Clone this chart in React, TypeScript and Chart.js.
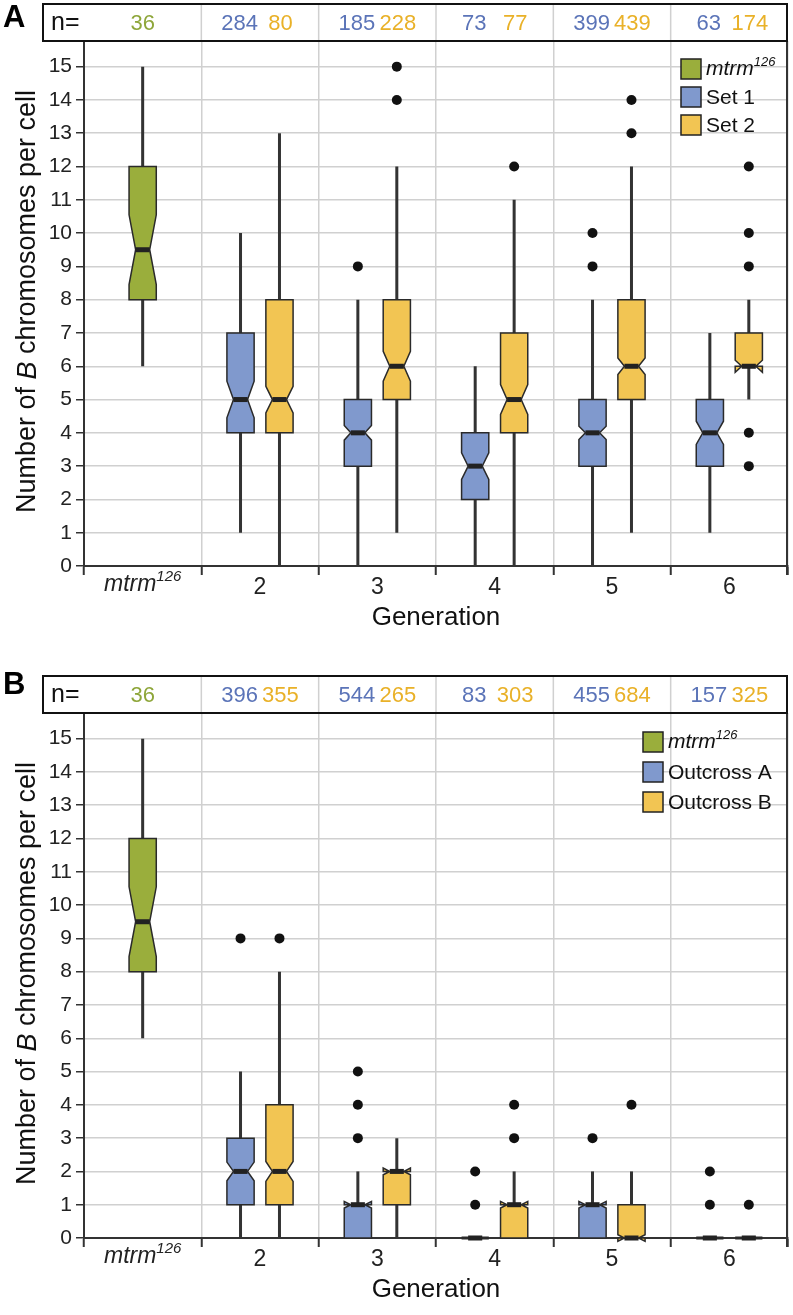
import React, { useEffect, useRef } from 'react';
import { Chart, registerables } from 'chart.js';

Chart.register(...registerables);

// ---------------- data ----------------
const categories = ['mtrm126', '2', '3', '4', '5', '6'];
const yTickValues = [0, 1, 2, 3, 4, 5, 6, 7, 8, 9, 10, 11, 12, 13, 14, 15];

// mtrm126 control (same in both panels): [lowWhisker, Q1, median, Q3, highWhisker]
const mtrmCount = 36;
const mtrmBox = [6, 8, 9.5, 12, 15];
const mtrmNotch = 1.05;

// Panel A – Set 1 / Set 2, generations 2..6
const aLegend = ['Set 1', 'Set 2'];
const aSet1N = [284, 185, 73, 399, 63];
const aSet2N = [80, 228, 77, 439, 174];
const aSet1Low = [1, 0, 0, 0, 1];
const aSet1Q1 = [4, 3, 2, 3, 3];
const aSet1Med = [5, 4, 3, 4, 4];
const aSet1Q3 = [7, 5, 4, 5, 5];
const aSet1High = [10, 8, 6, 8, 7];
const aSet1Notch = [0.55, 0.22, 0.4, 0.2, 0.35];
const aSet1Out = [[], [9], [], [9, 10], []];
const aSet2Low = [0, 1, 0, 1, 5];
const aSet2Q1 = [4, 5, 4, 5, 6];
const aSet2Med = [5, 6, 5, 6, 6];
const aSet2Q3 = [8, 8, 7, 8, 7];
const aSet2High = [13, 12, 11, 12, 8];
const aSet2Notch = [0.4, 0.45, 0.45, 0.25, 0.18];
const aSet2Out = [[], [14, 15], [12], [13, 14], [3, 4, 9, 10, 12]];

// Panel B – Outcross A / Outcross B, generations 2..6
const bLegend = ['Outcross A', 'Outcross B'];
const bSet1N = [396, 544, 83, 455, 157];
const bSet2N = [355, 265, 303, 684, 325];
const bSet1Low = [0, 0, 0, 0, 0];
const bSet1Q1 = [1, 0, 0, 0, 0];
const bSet1Med = [2, 1, 0, 1, 0];
const bSet1Q3 = [3, 1, 0, 1, 0];
const bSet1High = [5, 2, 0, 2, 0];
const bSet1Notch = [0.28, 0.1, 0, 0.1, 0];
const bSet1Out = [[9], [3, 4, 5], [1, 2], [3], [1, 2]];
const bSet2Low = [0, 0, 0, 0, 0];
const bSet2Q1 = [1, 1, 0, 0, 0];
const bSet2Med = [2, 2, 1, 0, 0];
const bSet2Q3 = [4, 2, 1, 1, 0];
const bSet2High = [8, 3, 2, 2, 0];
const bSet2Notch = [0.3, 0.1, 0.1, 0.1, 0];
const bSet2Out = [[9], [], [3, 4], [4], [1]];

// ---------------- style ----------------
const FONT = "'Liberation Sans', Arial, Helvetica, sans-serif";
const GREEN = '#9aae3c';
const BLUE = '#8099cd';
const YELLOW = '#f2c553';
const GREEN_T = '#8ea63a';
const BLUE_T = '#5b74b8';
const YELLOW_T = '#e9b128';
const DARK = '#333333';
const GRID = '#d0d0d0';

const W = 793;
const H = 640;
const X_OFF = 0.166;
const HALF_W = 0.116;
const INSET = 0.056;

type Series = { n: number[]; low: number[]; q1: number[]; med: number[]; q3: number[]; high: number[]; notch: number[]; out: number[][] };
type Panel = {
  letter: string; letterBase: number; legend: string[]; legendX: number; legendY: number; legendStep: number;
  s1: Series; s2: Series;
};

const panelA: Panel = {
  letter: 'A', letterBase: 27, legend: aLegend, legendX: 681, legendY: 69, legendStep: 28,
  s1: { n: aSet1N, low: aSet1Low, q1: aSet1Q1, med: aSet1Med, q3: aSet1Q3, high: aSet1High, notch: aSet1Notch, out: aSet1Out },
  s2: { n: aSet2N, low: aSet2Low, q1: aSet2Q1, med: aSet2Med, q3: aSet2Q3, high: aSet2High, notch: aSet2Notch, out: aSet2Out },
};
const panelB: Panel = {
  letter: 'B', letterBase: 22, legend: bLegend, legendX: 643, legendY: 70, legendStep: 30,
  s1: { n: bSet1N, low: bSet1Low, q1: bSet1Q1, med: bSet1Med, q3: bSet1Q3, high: bSet1High, notch: bSet1Notch, out: bSet1Out },
  s2: { n: bSet2N, low: bSet2Low, q1: bSet2Q1, med: bSet2Med, q3: bSet2Q3, high: bSet2High, notch: bSet2Notch, out: bSet2Out },
};

type Seg = { text: string; font: string; dy?: number };
function drawRich(ctx: CanvasRenderingContext2D, segs: Seg[], x: number, y: number, align: 'left' | 'center') {
  let total = 0;
  const widths = segs.map((s) => { ctx.font = s.font; const w = ctx.measureText(s.text).width; total += w; return w; });
  let cx = align === 'center' ? x - total / 2 : x;
  ctx.textAlign = 'left';
  ctx.textBaseline = 'middle';
  segs.forEach((s, i) => { ctx.font = s.font; ctx.fillText(s.text, cx, y + (s.dy || 0)); cx += widths[i]; });
}

function mtrmSegs(size: number, sup: number, dy: number): Seg[] {
  return [
    { text: 'mtrm', font: `italic ${size}px ${FONT}` },
    { text: '126', font: `italic ${sup}px ${FONT}`, dy: -dy },
  ];
}

function drawBox(ctx: CanvasRenderingContext2D, xs: any, ys: any, cx: number, low: number, q1: number, med: number, q3: number, high: number, notch: number, fill: string) {
  const L = xs.getPixelForValue(cx - HALF_W);
  const R = xs.getPixelForValue(cx + HALF_W);
  const C = xs.getPixelForValue(cx);
  const ins = xs.getPixelForValue(cx - HALF_W + INSET) - L;
  const py = (v: number) => ys.getPixelForValue(v);
  ctx.save();
  ctx.strokeStyle = DARK;
  ctx.lineWidth = 3;
  ctx.lineCap = 'butt';
  ctx.beginPath();
  if (high > q3) { ctx.moveTo(C, py(q3)); ctx.lineTo(C, py(high)); }
  if (low < q1) { ctx.moveTo(C, py(q1)); ctx.lineTo(C, py(low)); }
  ctx.stroke();
  const pts: [number, number][] = [
    [L, q3], [L, med + notch], [L + ins, med], [L, med - notch], [L, q1],
    [R, q1], [R, med - notch], [R - ins, med], [R, med + notch], [R, q3],
  ];
  ctx.beginPath();
  pts.forEach(([x, v], i) => (i === 0 ? ctx.moveTo(x, py(v)) : ctx.lineTo(x, py(v))));
  ctx.closePath();
  ctx.fillStyle = fill;
  ctx.fill();
  ctx.lineWidth = q1 === q3 ? 3 : 1.5;
  ctx.lineJoin = 'miter';
  ctx.strokeStyle = '#2a2a2a';
  ctx.stroke();
  ctx.fillStyle = '#222';
  ctx.fillRect(L + ins, py(med) - 2.5, R - L - 2 * ins, 5);
  ctx.restore();
}

function makePlugin(p: Panel) {
  return {
    id: 'boxes' + p.letter,
    beforeDatasetsDraw(chart: any) {
      const ctx = chart.ctx as CanvasRenderingContext2D;
      const xs = chart.scales.x;
      const ys = chart.scales.y;
      drawBox(ctx, xs, ys, 0.5, mtrmBox[0], mtrmBox[1], mtrmBox[2], mtrmBox[3], mtrmBox[4], mtrmNotch, GREEN);
      for (let i = 0; i < 5; i++) {
        const c = i + 1.5;
        drawBox(ctx, xs, ys, c - X_OFF, p.s1.low[i], p.s1.q1[i], p.s1.med[i], p.s1.q3[i], p.s1.high[i], p.s1.notch[i], BLUE);
        drawBox(ctx, xs, ys, c + X_OFF, p.s2.low[i], p.s2.q1[i], p.s2.med[i], p.s2.q3[i], p.s2.high[i], p.s2.notch[i], YELLOW);
      }
    },
    afterDraw(chart: any) {
      const ctx = chart.ctx as CanvasRenderingContext2D;
      const xs = chart.scales.x;
      const area = chart.chartArea;
      ctx.save();
      // right border
      ctx.strokeStyle = DARK;
      ctx.lineWidth = 2;
      ctx.beginPath();
      ctx.moveTo(area.right - 1, area.top);
      ctx.lineTo(area.right - 1, area.bottom + 9);
      ctx.stroke();
      // header box
      const hTop = 4;
      const hBot = area.top;
      ctx.strokeStyle = GRID;
      ctx.lineWidth = 1.5;
      for (let i = 1; i < 6; i++) {
        const x = xs.getPixelForValue(i);
        ctx.beginPath(); ctx.moveTo(x, hTop); ctx.lineTo(x, hBot); ctx.stroke();
      }
      ctx.strokeStyle = '#111';
      ctx.lineWidth = 2;
      ctx.strokeRect(43, hTop, area.right - 1 - 43, hBot - hTop);
      const hy = (hTop + hBot) / 2 + 1;
      ctx.fillStyle = '#111';
      drawRich(ctx, [{ text: 'n=', font: `25px ${FONT}` }], 51, hy, 'left');
      ctx.fillStyle = GREEN_T;
      drawRich(ctx, [{ text: String(mtrmCount), font: `22px ${FONT}` }], xs.getPixelForValue(0.5), hy, 'center');
      for (let i = 0; i < 5; i++) {
        ctx.fillStyle = BLUE_T;
        drawRich(ctx, [{ text: String(p.s1.n[i]), font: `22px ${FONT}` }], xs.getPixelForValue(i + 1.5 - X_OFF) - 1, hy, 'center');
        ctx.fillStyle = YELLOW_T;
        drawRich(ctx, [{ text: String(p.s2.n[i]), font: `22px ${FONT}` }], xs.getPixelForValue(i + 1.5 + X_OFF) + 1, hy, 'center');
      }
      // panel letter
      ctx.fillStyle = '#000';
      ctx.font = `bold 31px ${FONT}`;
      ctx.textAlign = 'left';
      ctx.textBaseline = 'alphabetic';
      ctx.fillText(p.letter, 3, p.letterBase);
      // x label for mtrm
      ctx.fillStyle = '#222';
      drawRich(ctx, mtrmSegs(23, 15, 8), xs.getPixelForValue(0.5), area.bottom + 19, 'center');
      // axis titles
      ctx.fillStyle = '#111';
      drawRich(ctx, [{ text: 'Generation', font: `26px ${FONT}` }], (area.left + area.right) / 2, area.bottom + 52, 'center');
      ctx.save();
      ctx.translate(28, (area.top + area.bottom) / 2 - 2);
      ctx.rotate(-Math.PI / 2);
      drawRich(ctx, [
        { text: 'Number of ', font: `27px ${FONT}` },
        { text: 'B', font: `italic 27px ${FONT}` },
        { text: ' chromosomes per cell', font: `27px ${FONT}` },
      ], 0, 0, 'center');
      ctx.restore();
      // legend
      const labels = [null, p.legend[0], p.legend[1]];
      const fills = [GREEN, BLUE, YELLOW];
      labels.forEach((lab, i) => {
        const cy = p.legendY + i * p.legendStep;
        ctx.fillStyle = fills[i];
        ctx.fillRect(p.legendX, cy - 10, 20, 20);
        ctx.strokeStyle = '#222';
        ctx.lineWidth = 1.5;
        ctx.strokeRect(p.legendX, cy - 10, 20, 20);
        ctx.fillStyle = '#111';
        if (lab === null) drawRich(ctx, mtrmSegs(21, 13, 7), p.legendX + 25, cy, 'left');
        else drawRich(ctx, [{ text: lab, font: `21px ${FONT}` }], p.legendX + 25, cy + 1, 'left');
      });
      ctx.restore();
    },
  };
}

function buildOutliers(p: Panel) {
  const pts: { x: number; y: number }[] = [];
  for (let i = 0; i < 5; i++) {
    p.s1.out[i].forEach((v) => pts.push({ x: i + 1.5 - X_OFF, y: v }));
    p.s2.out[i].forEach((v) => pts.push({ x: i + 1.5 + X_OFF, y: v }));
  }
  return pts;
}

const isInt = (v: number) => Math.abs(v - Math.round(v)) < 1e-6;

function makeConfig(p: Panel): any {
  const xTicks: number[] = [];
  for (let i = 0; i <= 12; i++) xTicks.push(i / 2);
  return {
    type: 'scatter',
    data: {
      datasets: [{
        data: buildOutliers(p),
        pointRadius: 5,
        pointHoverRadius: 5,
        backgroundColor: '#111',
        borderWidth: 0,
        showLine: false,
      }],
    },
    options: {
      animation: false,
      responsive: false,
      events: [],
      layout: { padding: { top: 41, right: 2, left: 0, bottom: 0 } },
      plugins: { legend: { display: false }, tooltip: { enabled: false } },
      scales: {
        x: {
          type: 'linear', min: 0, max: 6,
          afterBuildTicks: (s: any) => { s.ticks = xTicks.map((v) => ({ value: v })); },
          afterFit: (s: any) => { s.height = H - 566; },
          grid: {
            color: (c: any) => (c.tick && isInt(c.tick.value) ? GRID : 'rgba(0,0,0,0)'),
            tickColor: (c: any) => (c.tick && isInt(c.tick.value) ? DARK : 'rgba(0,0,0,0)'),
            lineWidth: 1.5,
            tickLength: 9,
            tickWidth: 2,
          },
          border: { color: DARK, width: 2 },
          ticks: {
            autoSkip: false, maxRotation: 0, minRotation: 0, padding: -1,
            color: '#222', font: { family: FONT, size: 23 },
            callback: (v: number) => {
              if (isInt(v)) return '';
              const idx = Math.floor(v);
              return idx === 0 ? '' : categories[idx];
            },
          },
        },
        y: {
          type: 'linear', min: 0, max: 15.77,
          afterBuildTicks: (s: any) => { s.ticks = yTickValues.map((v) => ({ value: v })); },
          afterFit: (s: any) => { s.width = 84; },
          grid: { color: GRID, lineWidth: 1.5, tickColor: DARK, tickLength: 8, tickWidth: 1.5 },
          border: { color: DARK, width: 2 },
          ticks: { padding: 4, color: '#222', font: { family: FONT, size: 21 } },
        },
      },
    },
    plugins: [makePlugin(p)],
  };
}

function PanelChart({ panel, top }: { panel: Panel; top: number }) {
  const ref = useRef<HTMLCanvasElement | null>(null);
  useEffect(() => {
    if (!ref.current) return;
    const chart = new Chart(ref.current, makeConfig(panel));
    return () => chart.destroy();
  }, [panel]);
  return (
    <canvas ref={ref} width={W} height={H} style={{ position: 'absolute', left: 0, top, width: W, height: H }} />
  );
}

export default function App() {
  return (
    <div style={{ position: 'absolute', left: 0, top: 0, width: W, height: 1315, background: '#fff' }}>
      <PanelChart panel={panelA} top={0} />
      <PanelChart panel={panelB} top={672} />
    </div>
  );
}
